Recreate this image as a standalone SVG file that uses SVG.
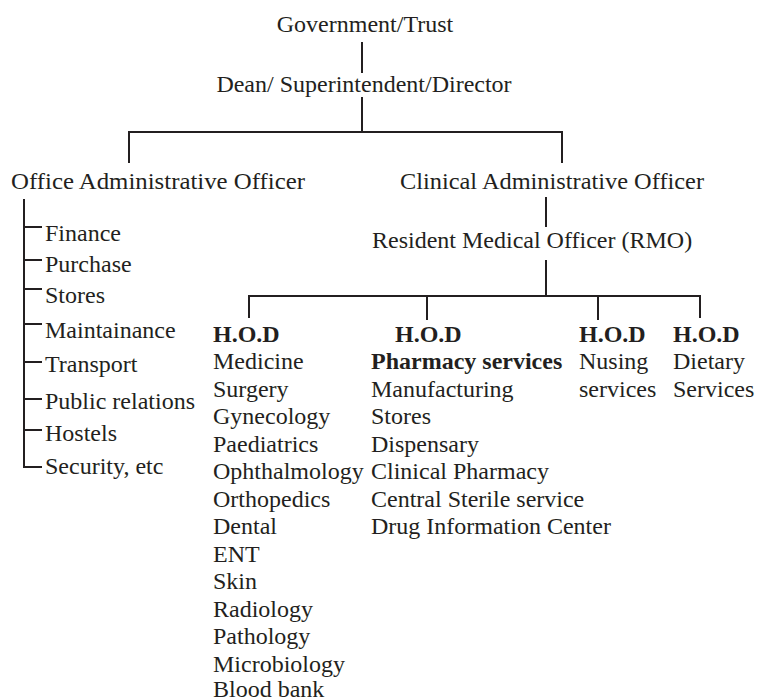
<svg xmlns="http://www.w3.org/2000/svg" width="758" height="699" viewBox="0 0 758 699">
<style>
text{font-family:"Liberation Serif","Times New Roman",serif;font-size:24px;fill:#231f20}
.b{font-weight:bold}
.c{text-anchor:middle}
.ln{stroke:#231f20;stroke-width:2;fill:none}
</style>
<rect width="758" height="699" fill="#fff"/>
<g id="connectors" class="ln">
<path d="M362 42V73M362 97V132M129 163V132H562V163"/>
<path d="M546 197V227M546 260V296M249 318V296H700V318M427 296V320M598 296V320"/>
<path d="M24 199V467H42M24 227H42M24 260H42M24 289H42M24 324H42M24 362H42M24 399H42M24 430H42"/>
</g>
<g id="gov"><text class="c" x="365" y="32">Government/Trust</text></g>
<g id="dean"><text class="c" x="364" y="92">Dean/ Superintendent/Director</text></g>
<g id="office"><text x="11" y="189" textLength="294" lengthAdjust="spacingAndGlyphs">Office Administrative Officer</text></g>
<g id="office-list">
<text x="45" y="241">Finance</text>
<text x="45" y="272">Purchase</text>
<text x="45" y="303">Stores</text>
<text x="45" y="338">Maintainance</text>
<text x="45" y="372">Transport</text>
<text x="45" y="409">Public relations</text>
<text x="45" y="441">Hostels</text>
<text x="45" y="474">Security, etc</text>
</g>
<g id="clinical"><text x="400" y="189" textLength="304" lengthAdjust="spacingAndGlyphs">Clinical Administrative Officer</text></g>
<g id="rmo"><text x="372" y="248">Resident Medical Officer (RMO)</text></g>
<g id="hod-medical">
<text class="b" x="213" y="342">H.O.D</text>
<text x="213" y="369">Medicine</text>
<text x="213" y="396.5">Surgery</text>
<text x="213" y="424">Gynecology</text>
<text x="213" y="451.5">Paediatrics</text>
<text x="213" y="479">Ophthalmology</text>
<text x="213" y="506.5">Orthopedics</text>
<text x="213" y="534">Dental</text>
<text x="213" y="561.5">ENT</text>
<text x="213" y="589">Skin</text>
<text x="213" y="616.5">Radiology</text>
<text x="213" y="644">Pathology</text>
<text x="213" y="671.5">Microbiology</text>
<text x="213" y="697">Blood bank</text>
</g>
<g id="hod-pharmacy">
<text class="b" x="395" y="342">H.O.D</text>
<text class="b" x="371" y="369">Pharmacy services</text>
<text x="371" y="396.5">Manufacturing</text>
<text x="371" y="424">Stores</text>
<text x="371" y="451.5">Dispensary</text>
<text x="371" y="479">Clinical Pharmacy</text>
<text x="371" y="506.5">Central Sterile service</text>
<text x="371" y="534">Drug Information Center</text>
</g>
<g id="hod-nursing">
<text class="b" x="579" y="342">H.O.D</text>
<text x="579" y="369">Nusing</text>
<text x="579" y="396.5">services</text>
</g>
<g id="hod-dietary">
<text class="b" x="673" y="342">H.O.D</text>
<text x="673" y="369">Dietary</text>
<text x="673" y="396.5">Services</text>
</g>
</svg>
